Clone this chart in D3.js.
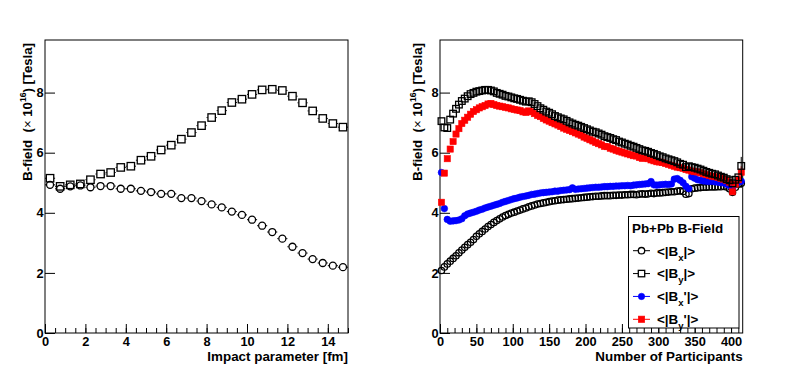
<!DOCTYPE html>
<html>
<head>
<meta charset="utf-8">
<script src="https://cdn.jsdelivr.net/npm/d3@7"></script>
<style>
  body { margin: 0; background: #fff; }
  svg { display: block; background: #fff; }
  text { white-space: pre; }
</style>
</head>
<body>
<svg id="chart" width="789" height="374"></svg>
<script>
const FONT = '"Liberation Sans", Arial, Helvetica, sans-serif';

// ---- left panel : vs impact parameter
const impact = [0.25, 0.75, 1.25, 1.75, 2.25, 2.75, 3.25, 3.75, 4.25, 4.75, 5.25, 5.75, 6.25, 6.75, 7.25,
  7.75, 8.25, 8.75, 9.25, 9.75, 10.25, 10.75, 11.25, 11.75, 12.25, 12.75, 13.25, 13.75, 14.25, 14.75];
const bxImpact = [4.93, 4.80, 4.88, 4.91, 4.85, 4.89, 4.89, 4.80, 4.80, 4.73, 4.69, 4.63, 4.63, 4.49, 4.49,
  4.39, 4.28, 4.18, 4.04, 3.93, 3.77, 3.57, 3.36, 3.14, 2.87, 2.66, 2.46, 2.33, 2.24, 2.19];
const byImpact = [5.15, 4.88, 4.93, 4.96, 5.10, 5.29, 5.34, 5.51, 5.55, 5.75, 5.88, 6.09, 6.25, 6.45, 6.67,
  6.90, 7.17, 7.40, 7.67, 7.78, 7.94, 8.09, 8.11, 8.07, 7.88, 7.66, 7.39, 7.14, 6.97, 6.85];

// ---- right panel : vs number of participants
const npart = [2, 6, 10, 14, 18, 22, 26, 30, 34, 38, 42, 46, 50, 54, 58, 62, 66, 70, 74, 78,
  82, 86, 90, 94, 98, 102, 106, 110, 114, 118, 122, 126, 130, 134, 138, 142, 146, 150, 154, 158,
  162, 166, 170, 174, 178, 182, 186, 190, 194, 198, 202, 206, 210, 214, 218, 222, 226, 230, 234, 238,
  242, 246, 250, 254, 258, 262, 266, 270, 274, 278, 282, 286, 290, 294, 298, 302, 306, 310, 314, 318,
  322, 326, 330, 334, 338, 342, 346, 350, 354, 358, 362, 366, 370, 374, 378, 382, 386, 390, 394, 398,
  402, 406, 410, 414];
const bxPart = [2.08, 2.20, 2.30, 2.39, 2.48, 2.57, 2.67, 2.76, 2.85, 2.94,
  3.02, 3.11, 3.22, 3.30, 3.38, 3.46, 3.54, 3.61, 3.68, 3.74,
  3.80, 3.86, 3.91, 3.95, 3.99, 4.02, 4.06, 4.09, 4.13, 4.16,
  4.20, 4.23, 4.26, 4.29, 4.31, 4.33, 4.35, 4.37, 4.39, 4.40,
  4.42, 4.43, 4.44, 4.45, 4.46, 4.47, 4.48, 4.49, 4.50, 4.51,
  4.52, 4.53, 4.54, 4.55, 4.55, 4.56, 4.57, 4.57, 4.57, 4.58,
  4.58, 4.59, 4.59, 4.60, 4.60, 4.61, 4.61, 4.60, 4.62, 4.63,
  4.62, 4.63, 4.65, 4.64, 4.66, 4.66, 4.67, 4.68, 4.69, 4.70,
  4.70, 4.72, 4.73, 4.71, 4.62, 4.64, 4.80, 4.82, 4.83, 4.84,
  4.85, 4.85, 4.86, 4.86, 4.86, 4.87, 4.87, 4.88, 4.86, 4.80,
  4.68, 4.85, 4.95, 4.98];
const byPart = [7.05, 6.84, 6.82, 7.10, 7.30, 7.46, 7.60, 7.72, 7.80, 7.88,
  7.95, 7.99, 8.03, 8.05, 8.07, 8.09, 8.09, 8.07, 8.04, 7.99,
  7.96, 7.93, 7.89, 7.87, 7.84, 7.81, 7.79, 7.76, 7.73, 7.70,
  7.71, 7.68, 7.62, 7.55, 7.48, 7.43, 7.37, 7.33, 7.28, 7.22,
  7.18, 7.14, 7.11, 7.06, 7.01, 6.97, 6.93, 6.90, 6.86, 6.82,
  6.78, 6.74, 6.70, 6.68, 6.64, 6.60, 6.55, 6.52, 6.49, 6.45,
  6.42, 6.37, 6.34, 6.30, 6.27, 6.23, 6.20, 6.16, 6.12, 6.08,
  6.06, 6.03, 5.99, 5.96, 5.92, 5.88, 5.85, 5.81, 5.78, 5.75,
  5.72, 5.68, 5.63, 5.60, 5.52, 5.55, 5.52, 5.50, 5.47, 5.44,
  5.40, 5.36, 5.33, 5.30, 5.28, 5.24, 5.20, 5.17, 5.12, 5.08,
  4.98, 5.10, 5.18, 5.56];
const bxPrimePart = [5.34, 4.14, 3.78, 3.72, 3.73, 3.74, 3.76, 3.80, 3.90, 3.96,
  3.99, 4.02, 4.05, 4.09, 4.12, 4.16, 4.19, 4.22, 4.25, 4.28,
  4.31, 4.35, 4.38, 4.41, 4.44, 4.47, 4.49, 4.52, 4.54, 4.56,
  4.58, 4.61, 4.62, 4.64, 4.66, 4.67, 4.68, 4.69, 4.70, 4.72,
  4.72, 4.74, 4.75, 4.76, 4.77, 4.83, 4.78, 4.79, 4.80, 4.81,
  4.82, 4.83, 4.84, 4.85, 4.85, 4.86, 4.87, 4.87, 4.88, 4.88,
  4.89, 4.89, 4.90, 4.90, 4.91, 4.90, 4.92, 4.93, 4.94, 4.95,
  4.96, 4.97, 5.04, 4.93, 4.92, 4.93, 4.94, 4.95, 4.94, 4.96,
  5.12, 5.14, 5.08, 5.00, 4.88, 4.80, 5.20, 5.15, 5.10, 5.08,
  5.06, 5.05, 5.04, 5.05, 5.03, 5.02, 5.00, 4.99, 4.95, 4.90,
  4.82, 4.95, 5.02, 5.05];
const byPrimePart = [4.35, 5.32, 5.80, 6.12, 6.37, 6.62, 6.80, 6.97, 7.08, 7.18,
  7.28, 7.37, 7.43, 7.49, 7.53, 7.57, 7.62, 7.64, 7.60, 7.57,
  7.55, 7.53, 7.51, 7.49, 7.46, 7.44, 7.42, 7.40, 7.36, 7.34,
  7.39, 7.36, 7.30, 7.24, 7.20, 7.14, 7.09, 7.05, 7.00, 6.96,
  6.92, 6.87, 6.82, 6.78, 6.74, 6.70, 6.66, 6.62, 6.58, 6.52,
  6.48, 6.43, 6.39, 6.34, 6.30, 6.26, 6.21, 6.20, 6.15, 6.12,
  6.08, 6.05, 6.02, 5.99, 5.96, 5.93, 5.90, 5.89, 5.84, 5.81,
  5.83, 5.80, 5.76, 5.73, 5.70, 5.69, 5.67, 5.64, 5.61, 5.58,
  5.55, 5.52, 5.50, 5.48, 5.44, 5.42, 5.39, 5.37, 5.36, 5.33,
  5.30, 5.27, 5.24, 5.22, 5.20, 5.18, 5.15, 5.12, 5.08, 5.02,
  4.70, 4.95, 5.10, 5.35];
// error bars visible only on the last participant bin
const lastBinErr = [0.15, 0.3, 0.12, 0.2];

const legendTitle = "Pb+Pb B-Field";
const legendSub = ["x", "y", "x", "y"];
const legendPrime = [false, false, true, true];
const seriesColors = ["#000", "#000", "#0000ff", "#ff0000"];
const seriesShapes = ["openCircle", "openSquare", "fullCircle", "fullSquare"];

const svg = d3.select("#chart");

// Frame positions
const frameTop = 40, frameBottom = 333;
const yScale = d3.scaleLinear().domain([0, 9.75]).range([frameBottom, frameTop]);

function marker(g, shape, color, cx, cy, size) {
  const h = size / 2;
  if (shape === "openCircle" || shape === "fullCircle") {
    g.append("circle")
      .attr("cx", cx).attr("cy", cy).attr("r", h - 0.3)
      .attr("fill", shape === "fullCircle" ? color : "none")
      .attr("stroke", color)
      .attr("stroke-width", shape === "fullCircle" ? 0.6 : 1.3);
  } else {
    g.append("rect")
      .attr("x", cx - h + 0.3).attr("y", cy - h + 0.3)
      .attr("width", size - 0.6).attr("height", size - 0.6)
      .attr("fill", shape === "fullSquare" ? color : "none")
      .attr("stroke", color)
      .attr("stroke-width", shape === "fullSquare" ? 0.6 : 1.3);
  }
}

function drawFrame(x, cfg) {
  const g = svg.append("g");

  // major & minor ticks on x
  g.append("g")
    .attr("transform", `translate(0,${frameBottom})`)
    .call(d3.axisBottom(x).tickValues(cfg.xMinor).tickSize(-5).tickFormat(""))
    .call((a) => a.select(".domain").remove());
  g.append("g")
    .attr("transform", `translate(0,${frameBottom})`)
    .call(d3.axisBottom(x).tickValues(cfg.xMajor).tickSize(-9).tickPadding(4).tickFormat(d3.format("d")))
    .call((a) => a.select(".domain").remove())
    .attr("font-size", 12.8)
    .attr("font-family", FONT)
    .attr("font-weight", "bold");

  // y ticks
  g.append("g")
    .attr("transform", `translate(${x.range()[0]},0)`)
    .call(d3.axisLeft(yScale).tickValues([0, 2, 4, 6, 8]).tickSize(-10).tickPadding(1.5).tickFormat(d3.format("d")))
    .call((a) => a.select(".domain").remove())
    .attr("font-size", 12.8)
    .attr("font-family", FONT)
    .attr("font-weight", "bold");

  // frame box
  g.append("rect")
    .attr("x", x.range()[0])
    .attr("y", frameTop)
    .attr("width", x.range()[1] - x.range()[0])
    .attr("height", frameBottom - frameTop)
    .attr("fill", "none")
    .attr("stroke", "#000")
    .attr("stroke-width", 1);

  // x title
  g.append("text")
    .attr("x", x.range()[1])
    .attr("y", 361)
    .attr("text-anchor", "end")
    .attr("font-family", FONT)
    .attr("font-weight", "bold")
    .attr("font-size", 13.4)
    .text(cfg.xTitle);

  // y title
  const yt = g.append("text")
    .attr("transform", `translate(${cfg.yTitleX},${frameTop + 3}) rotate(-90)`)
    .attr("text-anchor", "end")
    .attr("font-family", FONT)
    .attr("font-weight", "bold")
    .attr("font-size", 13.2);
  yt.append("tspan").text("B-field  (");
  yt.append("tspan").attr("font-weight", "normal").text("\u00d7");
  yt.append("tspan").text(" 10");
  yt.append("tspan").attr("font-size", 8.5).attr("dy", -5.5).text("16");
  yt.append("tspan").attr("dy", 5.5).text(") [Tesla]");
  return g;
}

function drawSeries(x, xs, ys, shape, color, size, xHalf, errLast) {
  const g = svg.append("g");
  xs.forEach((xv, i) => {
    const cx = x(xv), cy = yScale(ys[i]);
    const xl = x(xv - xHalf), xr = x(xv + xHalf);
    if (xr - cx > size / 2) {
      g.append("line").attr("x1", xl).attr("x2", cx - size / 2).attr("y1", cy).attr("y2", cy)
        .attr("stroke", color).attr("stroke-width", 1);
      g.append("line").attr("x1", cx + size / 2).attr("x2", xr).attr("y1", cy).attr("y2", cy)
        .attr("stroke", color).attr("stroke-width", 1);
    }
    if (errLast && i === xs.length - 1) {
      g.append("line").attr("x1", cx).attr("x2", cx)
        .attr("y1", yScale(ys[i] + errLast)).attr("y2", yScale(ys[i] - errLast))
        .attr("stroke", color).attr("stroke-width", 1);
    }
    marker(g, shape, color, cx, cy, size);
  });
}

// ---------------- left panel
const xImpact = d3.scaleLinear().domain([0, 15]).range([45, 348]);
drawFrame(xImpact, {
  xMajor: [0, 2, 4, 6, 8, 10, 12, 14],
  xMinor: d3.range(0, 15.01, 0.5),
  xTitle: "Impact parameter [fm]",
  yTitleX: 31.5,
});
drawSeries(xImpact, impact, bxImpact, "openCircle", "#000", 7.6, 0.25, 0);
drawSeries(xImpact, impact, byImpact, "openSquare", "#000", 8, 0.25, 0);

// ---------------- right panel
const xPart = d3.scaleLinear().domain([0, 416]).range([440, 742.7]);
drawFrame(xPart, {
  xMajor: [0, 50, 100, 150, 200, 250, 300, 350, 400],
  xMinor: d3.range(0, 416, 10),
  xTitle: "Number of Participants",
  yTitleX: 421.5,
});
drawSeries(xPart, npart, bxPart, "openCircle", "#000", 7, 2, lastBinErr[0]);
drawSeries(xPart, npart, bxPrimePart, "fullCircle", "#0000ff", 7.2, 2, lastBinErr[2]);
drawSeries(xPart, npart, byPrimePart, "fullSquare", "#ff0000", 6.8, 2, lastBinErr[3]);
drawSeries(xPart, npart, byPart, "openSquare", "#000", 7.2, 2, lastBinErr[1]);

// ---------------- legend
const leg = svg.append("g");
leg.append("rect")
  .attr("x", 628.5).attr("y", 216.5)
  .attr("width", 110.5).attr("height", 111.5)
  .attr("fill", "#fff").attr("stroke", "#000").attr("stroke-width", 1);
leg.append("text")
  .attr("x", 632).attr("y", 232.5)
  .attr("font-family", FONT).attr("font-weight", "bold").attr("font-size", 13.4)
  .text(legendTitle);
const legendY = d3.scalePoint().domain(d3.range(4)).range([250.7, 319.3]);
seriesShapes.forEach((shape, i) => {
  const cy = legendY(i);
  leg.append("line").attr("x1", 633).attr("x2", 650).attr("y1", cy).attr("y2", cy)
    .attr("stroke", seriesColors[i]).attr("stroke-width", 1);
  if (shape.startsWith("open")) {
    leg.append(shape === "openCircle" ? "circle" : "rect")
      .attr("cx", 641.5).attr("cy", cy).attr("r", 3.2)
      .attr("x", 638).attr("y", cy - 3.5).attr("width", 7).attr("height", 7)
      .attr("fill", "#fff");
  }
  marker(leg, shape, seriesColors[i], 641.5, cy, 7);
  const t = leg.append("text")
    .attr("x", 657).attr("y", cy + 4.8)
    .attr("font-family", FONT).attr("font-weight", "bold").attr("font-size", 13.4);
  t.append("tspan").text("<|B");
  t.append("tspan").attr("font-size", 9.5).attr("dy", 5).text(legendSub[i]);
  t.append("tspan").attr("dy", -5).text(legendPrime[i] ? "'|>" : "|>");
});
</script>
</body>
</html>
